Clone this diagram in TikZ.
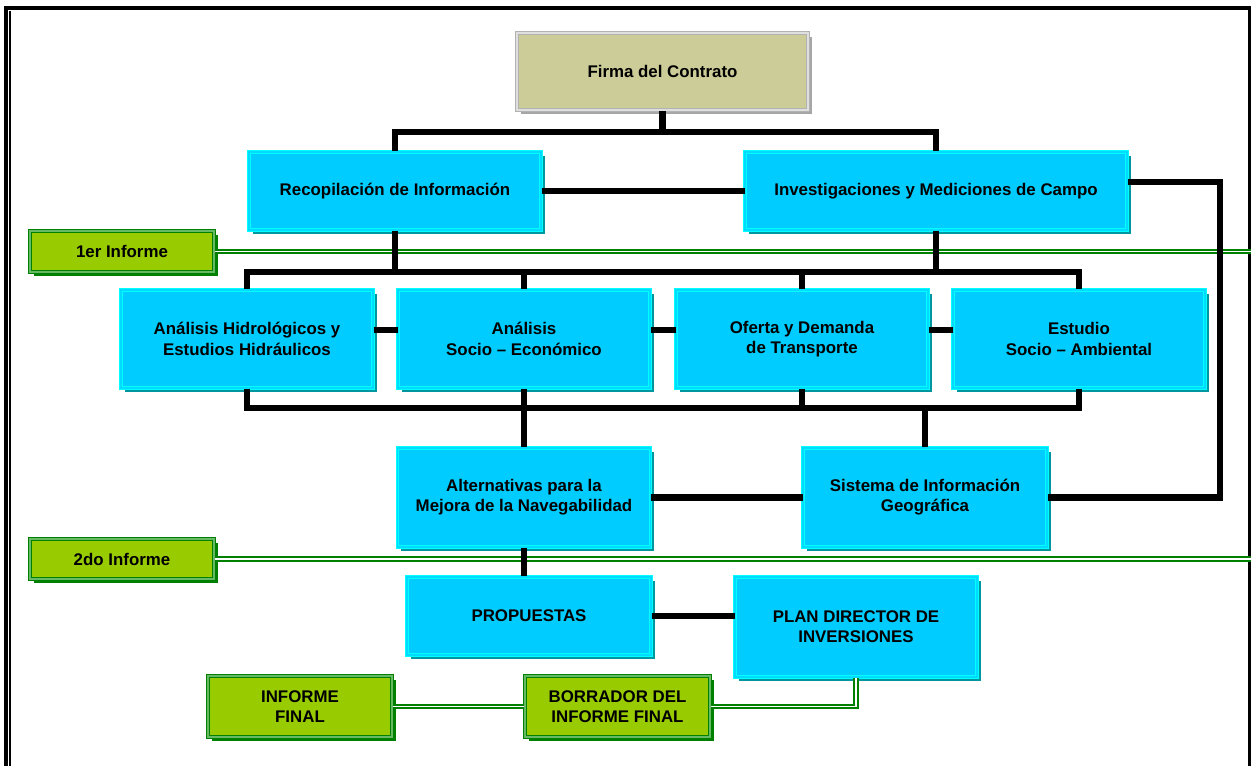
\documentclass[tikz,border=0pt]{standalone}
\usepackage{fontspec}
\setmainfont{Liberation Sans}
\usepackage{tikz}
\usetikzlibrary{shadows}
\usepackage{xcolor}
\definecolor{boxcyan}{RGB}{0,204,255}
\definecolor{edgecyan}{RGB}{0,255,255}
\definecolor{shadecyan}{RGB}{0,150,160}
\definecolor{boxkhaki}{RGB}{204,204,153}
\definecolor{boxgreen}{RGB}{153,204,0}
\definecolor{edgegreen}{RGB}{0,128,0}
\begin{document}
\begin{tikzpicture}[x=0.02cm,y=-0.02cm,font=\fontsize{9.6}{11.5}\selectfont\bfseries,line cap=butt,
  tarea/.style={draw=edgecyan,double=boxcyan!70!edgecyan,line width=0.6pt,double distance=0.7pt,fill=boxcyan,align=center,inner sep=2pt,
    drop shadow={shadow xshift=2.2pt,shadow yshift=-2.2pt,fill=shadecyan,opacity=1}},
  firmabox/.style={draw=gray!60,double=gray!25,line width=0.7pt,double distance=0.8pt,fill=boxkhaki,align=center,
    drop shadow={shadow xshift=2.2pt,shadow yshift=-2.2pt,fill=gray!70,opacity=1}},
  informe/.style={draw=edgegreen,double=green!55!black!60,line width=0.7pt,double distance=0.8pt,fill=boxgreen,align=center,inner sep=2pt,
    drop shadow={shadow xshift=2.2pt,shadow yshift=-2.2pt,fill=edgegreen,opacity=1}},
  link/.style={draw=black,line width=3.6pt},
  hito/.style={draw=edgegreen,double=white,line width=1.4pt,double distance=0.6pt}]
\useasboundingbox (0,0) rectangle (1251,766);
\draw[line width=2.2pt] (6,766) -- (6,8) -- (1251,8);
\draw[line width=1.2pt] (10,766) -- (10,11);
\draw[line width=2.2pt] (1249.5,8) -- (1249.5,766);
\node[firmabox,minimum width=5.82cm,minimum height=1.54cm] (firma) at (662.5,71.5) {Firma del Contrato};
\node[tarea,minimum width=5.84cm,minimum height=1.56cm] (recop) at (395,191) {Recopilación de Información};
\node[tarea,minimum width=7.64cm,minimum height=1.56cm] (invest) at (936,191) {Investigaciones y Mediciones de Campo};
\node[informe,minimum width=3.68cm,minimum height=0.82cm] (inf1) at (122,251.5) {1er Informe};
\node[tarea,minimum width=5.04cm,minimum height=1.96cm] (hidro) at (247,339) {Análisis Hidrológicos y\\Estudios Hidráulicos};
\node[tarea,minimum width=5.04cm,minimum height=1.96cm] (socioec) at (524,339) {Análisis\\Socio -- Económico};
\node[tarea,minimum width=5.04cm,minimum height=1.96cm] (oferta) at (802,339) {Oferta y Demanda\\de Transporte};
\node[tarea,minimum width=5.04cm,minimum height=1.96cm] (ambiental) at (1079,339) {Estudio\\Socio -- Ambiental};
\node[tarea,minimum width=5.06cm,minimum height=1.98cm] (altern) at (524,497.5) {Alternativas para la\\Mejora de la Navegabilidad};
\node[tarea,minimum width=4.88cm,minimum height=1.98cm] (sig) at (925,497.5) {Sistema de Información\\Geográfica};
\node[informe,minimum width=3.68cm,minimum height=0.8cm] (inf2) at (122,559) {2do Informe};
\node[tarea,minimum width=4.88cm,minimum height=1.56cm] (propuestas) at (529,616) {PROPUESTAS};
\node[tarea,minimum width=4.84cm,minimum height=2.0cm] (plan) at (856,627) {PLAN DIRECTOR DE\\INVERSIONES};
\node[informe,minimum width=3.68cm,minimum height=1.22cm] (final) at (300,706.5) {INFORME\\FINAL};
\node[informe,minimum width=3.7cm,minimum height=1.22cm] (borrador) at (617.5,706.5) {BORRADOR DEL\\INFORME FINAL};
\coordinate (borde) at (1251,0);
\coordinate (bus1) at (0,132);
\coordinate (bus2) at (0,272);
\coordinate (bus3) at (0,408);
\coordinate (lado) at (1220,0);
\draw[hito] (inf1.east) -- (inf1.east -| borde);
\draw[hito] (inf2.east) -- (inf2.east -| borde);
\draw[hito] (plan.south) -- (plan.south |- borrador.east) -- (borrador.east);
\draw[hito] (borrador.west) -- (final.east);
\draw[link] (firma.south) -- (firma.south |- bus1);
\draw[link] (recop.north) -- (recop.north |- bus1) -- (invest.north |- bus1) -- (invest.north);
\draw[link] (recop.east) -- (invest.west);
\draw[link] (recop.south) -- (recop.south |- bus2);
\draw[link] (invest.south) -- (invest.south |- bus2);
\draw[link] (hidro.north) -- (hidro.north |- bus2) -- (ambiental.north |- bus2) -- (ambiental.north);
\draw[link] (socioec.north) -- (socioec.north |- bus2);
\draw[link] (oferta.north) -- (oferta.north |- bus2);
\draw[link] ([yshift=5pt]hidro.east) -- ([yshift=5pt]socioec.west);
\draw[link] ([yshift=5pt]socioec.east) -- ([yshift=5pt]oferta.west);
\draw[link] ([yshift=5pt]oferta.east) -- ([yshift=5pt]ambiental.west);
\draw[link] (hidro.south) -- (hidro.south |- bus3) -- (ambiental.south |- bus3) -- (ambiental.south);
\draw[link] (socioec.south) -- (altern.north);
\draw[link] (oferta.south) -- (oferta.south |- bus3);
\draw[link] (sig.north) -- (sig.north |- bus3);
\draw[link] (altern.east) -- (sig.west);
\draw[link] ([yshift=5pt]invest.east) -- ([yshift=5pt]invest.east -| lado) -- (sig.east -| lado) -- (sig.east);
\draw[link] (altern.south) -- (altern.south |- propuestas.north);
\draw[link] (propuestas.east) -- (propuestas.east -| plan.west);
\end{tikzpicture}
\end{document}
